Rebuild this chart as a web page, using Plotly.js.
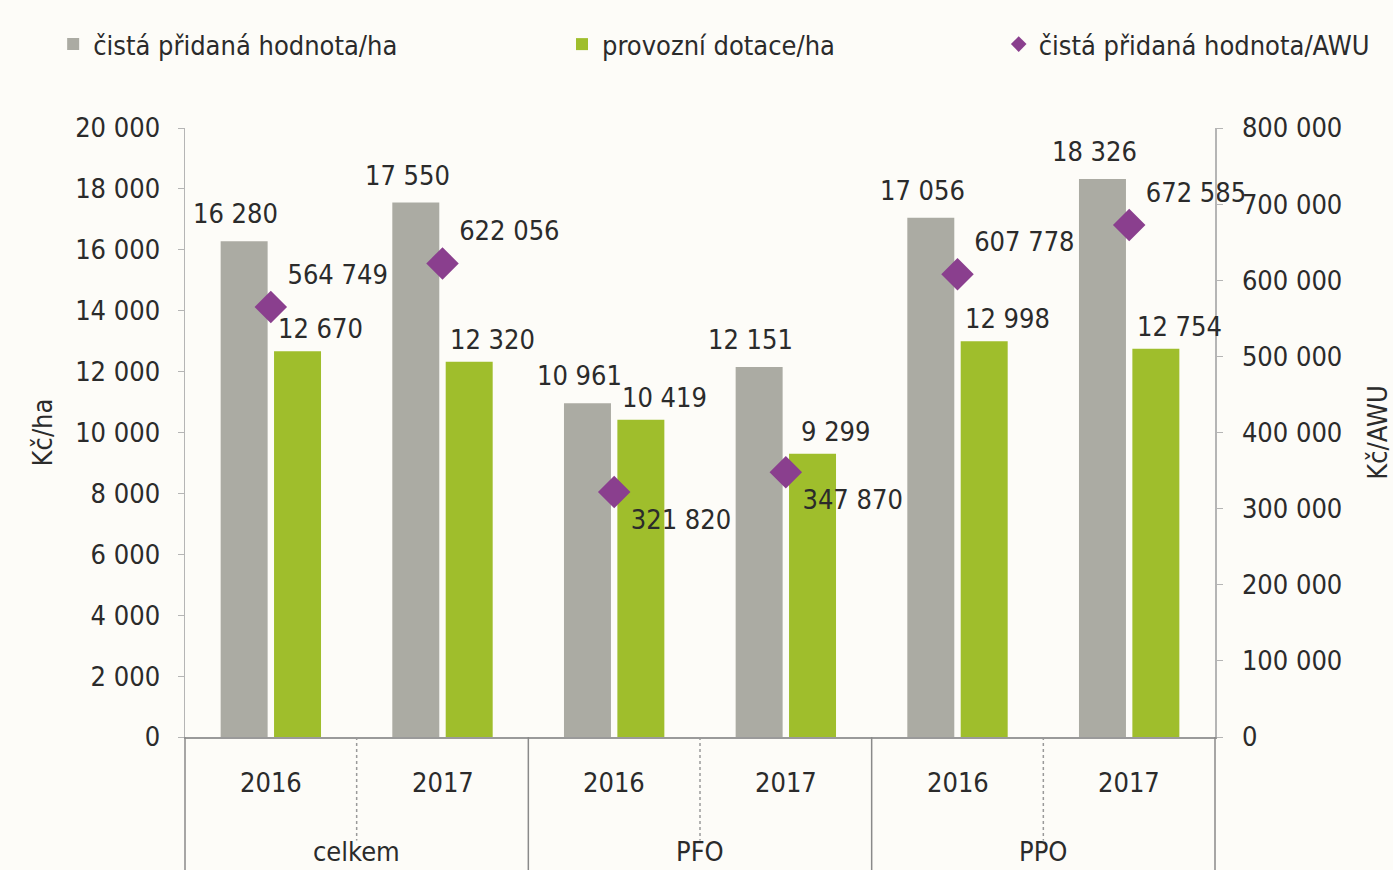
<!DOCTYPE html>
<html>
<head>
<meta charset="utf-8">
<script src="https://cdn.plot.ly/plotly-3.0.1.min.js"></script>
<style>
html,body{margin:0;padding:0;background:#fdfcf8;}
#chart{width:1393px;height:870px;}
</style>
</head>
<body>
<div id="chart"></div>
<script>
const groups = ['celkem', 'celkem', 'PFO', 'PFO', 'PPO', 'PPO'];
const years = ['2016', '2017', '2016', '2017', '2016', '2017'];
const cphHa = [16280, 17550, 10961, 12151, 17056, 18326];
const dotaceHa = [12670, 12320, 10419, 9299, 12998, 12754];
const cphAWU = [564749, 622056, 321820, 347870, 607778, 672585];
const awuLabelPos = ['top right', 'top right', 'bottom right', 'bottom right', 'top right', 'top right'];

const FONT = '"DejaVu Sans Condensed", "Liberation Sans Narrow", "Open Sans", sans-serif';
const TXT = '#2b2b2b';
const FS = 27;

const traces = [
  {
    type: 'bar', name: 'čistá přidaná hodnota/ha',
    x: [groups, years], y: cphHa,
    marker: {color: '#ababa3'},
    legend: 'legend'
  },
  {
    type: 'bar', name: 'provozní dotace/ha',
    x: [groups, years], y: dotaceHa,
    marker: {color: '#9fbe2c'},
    legend: 'legend2'
  },
  {
    type: 'scatter', mode: 'markers+text', name: 'čistá přidaná hodnota/AWU',
    x: [groups, years], y: cphAWU, yaxis: 'y2',
    marker: {symbol: 'diamond', size: 25, color: '#8a3f8e'},
    texttemplate: '%{y:,}', textposition: awuLabelPos, cliponaxis: false,
    textfont: {family: FONT, size: FS, color: TXT},
    legend: 'legend3'
  }
];

const fmt = v => String(v).replace(/\B(?=(\d{3})+(?!\d))/g, ' ');
const font = {family: FONT, size: FS, color: TXT};

// value labels above bars
const barLabel = (vals, dx, dy) => vals.map((v, i) => ({
  xref: 'x', yref: 'y', x: i, y: v,
  text: fmt(v), showarrow: false,
  xanchor: 'center', yanchor: 'bottom',
  xshift: dx, yshift: dy, font: font
}));

// two-level category labels (year, group)
const yearLabels = years.map((y, i) => ({
  xref: 'x', yref: 'paper', x: i, y: -0.0755,
  text: y, showarrow: false, xanchor: 'center', yanchor: 'middle', font: font
}));
const groupNames = [...new Set(groups)];
const groupLabels = groupNames.map(g => {
  const idx = groups.map((v, i) => v === g ? i : -1).filter(i => i >= 0);
  const mid = idx.reduce((a, b) => a + b, 0) / idx.length;
  return {
    xref: 'x', yref: 'paper', x: mid, y: -0.2155,
    text: g, showarrow: false, xanchor: 'center', yanchor: 'bottom',
    borderpad: 0, font: font
  };
});

const nCat = years.length;
const solidDividers = [];
for (let k = 0; k <= nCat; k += 2) {
  solidDividers.push({
    type: 'line', xref: 'paper', yref: 'paper',
    x0: k / nCat, x1: k / nCat, y0: 0, y1: -0.23,
    line: {color: '#8a8a8a', width: 1.5}
  });
}
const dottedDividers = [];
for (let k = 1; k < nCat; k += 2) {
  dottedDividers.push({
    type: 'line', xref: 'paper', yref: 'paper',
    x0: k / nCat, x1: k / nCat, y0: 0, y1: -0.17,
    line: {color: '#9a9a9a', width: 1.5, dash: 'dot'}
  });
}

const layout = {
  width: 1393, height: 870,
  paper_bgcolor: '#fdfcf8', plot_bgcolor: '#fdfcf8',
  margin: {l: 185, r: 178, t: 128, b: 133},
  separators: ', ',
  font: font,
  barmode: 'group', bargap: 0.378, bargroupgap: 0.12,
  showlegend: true,
  legend: {x: -0.128, y: 1.137, xanchor: 'left', yanchor: 'middle', orientation: 'h', font: font, bgcolor: 'rgba(0,0,0,0)'},
  legend2: {x: 0.366, y: 1.137, xanchor: 'left', yanchor: 'middle', orientation: 'h', font: font, bgcolor: 'rgba(0,0,0,0)'},
  legend3: {x: 0.79, y: 1.137, xanchor: 'left', yanchor: 'middle', orientation: 'h', font: font, bgcolor: 'rgba(0,0,0,0)', itemsizing: 'constant'},
  xaxis: {
    type: 'multicategory',
    range: [-0.5, nCat - 0.5], autorange: false,
    showline: true, linecolor: '#9a9a9a', linewidth: 1.5,
    showgrid: false, ticks: '', showticklabels: false, showdividers: false
  },
  yaxis: {
    range: [0, 20000], dtick: 2000, tickformat: ',d',
    showline: true, linecolor: '#b5b5b5', linewidth: 1.5,
    showgrid: false, zeroline: false,
    ticks: 'outside', ticklen: 6, tickcolor: '#b5b5b5',
    ticklabelstandoff: 12,
    tickfont: font,
    title: {text: 'Kč/ha', font: font, standoff: 14}
  },
  yaxis2: {
    overlaying: 'y', side: 'right',
    range: [0, 800000], dtick: 100000, tickformat: ',d',
    showline: true, linecolor: '#b5b5b5', linewidth: 1.5,
    showgrid: false, zeroline: false,
    ticks: 'outside', ticklen: 6, tickcolor: '#b5b5b5',
    ticklabelstandoff: 14,
    tickfont: font,
    title: {text: 'Kč/AWU', font: font, standoff: 30}
  },
  annotations: barLabel(cphHa, -35, 10)
    .concat(barLabel(dotaceHa, 50, 5))
    .concat(yearLabels)
    .concat(groupLabels),
  shapes: solidDividers.concat(dottedDividers)
};

Plotly.newPlot('chart', traces, layout, {displayModeBar: false, staticPlot: true});
</script>
</body>
</html>
